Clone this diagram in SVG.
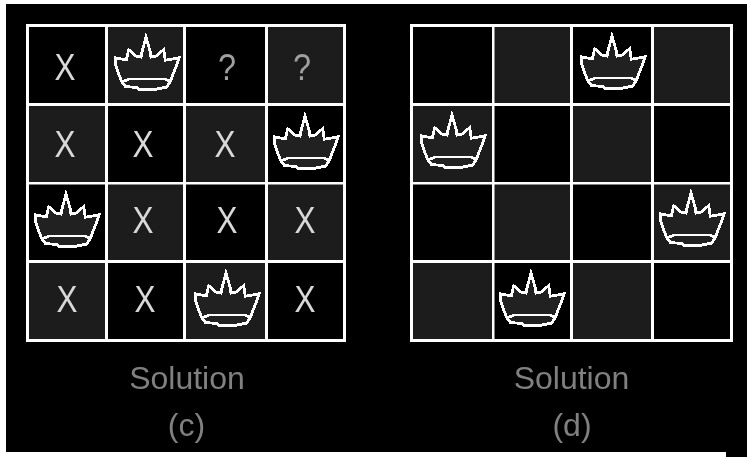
<svg xmlns="http://www.w3.org/2000/svg" width="747" height="457" viewBox="0 0 747 457">
<style>
.d{fill:#1c1c1c}
.l{fill:#fff}
.c{fill:#212121;stroke:#fff;stroke-width:2.800;shape-rendering:crispEdges}
.a{fill:none;stroke:#fff;stroke-width:2.800;shape-rendering:crispEdges}
.x{font:36px "Liberation Sans",Arial,sans-serif;fill:#d8d8d8;text-anchor:middle;filter:url(#soft)}
.q{font:36px "Liberation Sans",Arial,sans-serif;fill:#a0a0a0;text-anchor:middle;filter:url(#soft)}
.t{font:32px "Liberation Sans",Arial,sans-serif;fill:#808080;text-anchor:middle;filter:url(#soft)}
</style>
<defs>
<filter id="soft" x="-20%" y="-20%" width="140%" height="140%"><feGaussianBlur stdDeviation="0.700"/></filter>
<g id="crown">
<path class="c" d="M0 0L-4 15L-5 20L-10 19L-17.300 12.700L-19.700 23L-30.700 20.700L-30.700 27L-27.300 37L-24 45L-20.700 49.300L-9 50.700L-7.300 52.700L7.700 52.700L21 50L24.300 44.300L29.300 31.700L33.300 20.700L19.300 23.300L17.700 12.700L10 19L5 20L4.300 15Z"/>
<path class="a" d="M-24 45L-17 42H19L24.300 44.300"/>
</g>
</defs>
<rect width="747" height="457" fill="#fff"/>
<rect x="6" y="4" width="741" height="448" fill="#000"/>
<rect x="726" y="452" width="21" height="5" fill="#000"/>
<g id="board-c">
<rect class="d" x="105" y="24" width="80" height="80"/>
<rect class="d" x="265" y="24" width="80" height="80"/>
<rect class="d" x="26" y="104" width="80" height="80"/>
<rect class="d" x="185" y="104" width="80" height="80"/>
<rect class="d" x="105" y="183" width="80" height="80"/>
<rect class="d" x="265" y="183" width="80" height="80"/>
<rect class="d" x="26" y="262" width="80" height="80"/>
<rect class="d" x="185" y="262" width="80" height="80"/>
<rect class="l" x="26" y="24" width="320" height="3"/>
<rect class="l" x="26" y="103" width="320" height="3"/>
<rect class="l" x="26" y="182" width="320" height="2.500"/>
<rect class="l" x="26" y="260" width="320" height="3"/>
<rect class="l" x="26" y="339" width="320" height="3"/>
<rect class="l" x="26" y="24" width="3" height="318"/>
<rect class="l" x="105" y="24" width="3" height="318"/>
<rect class="l" x="183" y="24" width="3" height="318"/>
<rect class="l" x="265" y="24" width="3" height="318"/>
<rect class="l" x="343" y="24" width="3" height="318"/>
<use href="#crown" x="146" y="37"/>
<use href="#crown" x="305" y="116"/>
<use href="#crown" x="66" y="194"/>
<use href="#crown" x="226" y="273"/>
<text class="x" x="65" y="80" textLength="21" lengthAdjust="spacingAndGlyphs">X</text>
<text class="q" x="227" y="80" textLength="18" lengthAdjust="spacingAndGlyphs">?</text>
<text class="q" x="302" y="80" textLength="18" lengthAdjust="spacingAndGlyphs">?</text>
<text class="x" x="65" y="157" textLength="21" lengthAdjust="spacingAndGlyphs">X</text>
<text class="x" x="143" y="157" textLength="21" lengthAdjust="spacingAndGlyphs">X</text>
<text class="x" x="225" y="157" textLength="21" lengthAdjust="spacingAndGlyphs">X</text>
<text class="x" x="143" y="233" textLength="21" lengthAdjust="spacingAndGlyphs">X</text>
<text class="x" x="227" y="233" textLength="21" lengthAdjust="spacingAndGlyphs">X</text>
<text class="x" x="305" y="233" textLength="21" lengthAdjust="spacingAndGlyphs">X</text>
<text class="x" x="67" y="312" textLength="21" lengthAdjust="spacingAndGlyphs">X</text>
<text class="x" x="145" y="312" textLength="21" lengthAdjust="spacingAndGlyphs">X</text>
<text class="x" x="305" y="312" textLength="21" lengthAdjust="spacingAndGlyphs">X</text>
<text class="t" x="187" y="389">Solution</text>
<text class="t" x="186.500" y="436">(c)</text>
</g>
<g id="board-d">
<rect class="d" x="492" y="24" width="80" height="80"/>
<rect class="d" x="652" y="24" width="80" height="80"/>
<rect class="d" x="411" y="104" width="82" height="80"/>
<rect class="d" x="571" y="104" width="82" height="80"/>
<rect class="d" x="492" y="183" width="80" height="80"/>
<rect class="d" x="652" y="183" width="80" height="80"/>
<rect class="d" x="411" y="262" width="82" height="80"/>
<rect class="d" x="571" y="262" width="82" height="80"/>
<rect class="l" x="410" y="24" width="323" height="3"/>
<rect class="l" x="410" y="103" width="323" height="3"/>
<rect class="l" x="410" y="182" width="323" height="2.500"/>
<rect class="l" x="410" y="260" width="323" height="3"/>
<rect class="l" x="410" y="339" width="323" height="3"/>
<rect class="l" x="410" y="24" width="3" height="318"/>
<rect class="l" x="492" y="24" width="2.500" height="318"/>
<rect class="l" x="570" y="24" width="3" height="318"/>
<rect class="l" x="651" y="24" width="3" height="318"/>
<rect class="l" x="730" y="24" width="3" height="318"/>
<use href="#crown" x="612" y="36"/>
<use href="#crown" x="452" y="115"/>
<use href="#crown" x="691" y="193"/>
<use href="#crown" x="531" y="273"/>
<text class="t" x="571.500" y="389">Solution</text>
<text class="t" x="572" y="436">(d)</text>
</g>
</svg>
